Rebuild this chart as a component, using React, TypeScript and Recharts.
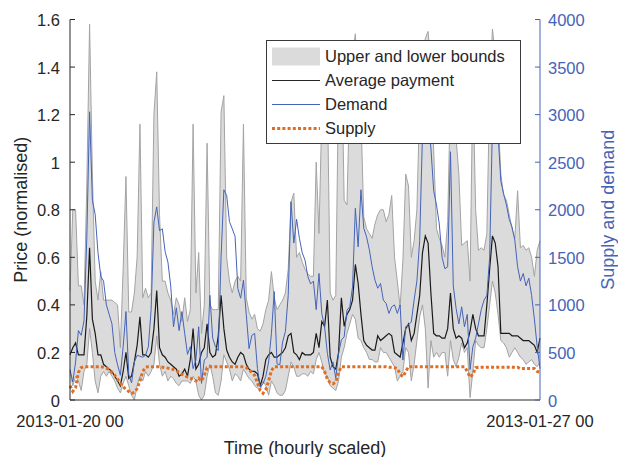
import { ComposedChart, Area, Line, XAxis, YAxis, Legend } from 'recharts';

// hourly values, 2013-01-20 00 .. 2013-01-27 00 (169 points)
const upperBound = [
  0.46, 0.8, 0.8, 0.48, 0.48, 0.4, 0.9, 1.58, 0.95, 0.5,
  0.42, 0.54, 0.42, 0.42, 0.42, 0.42, 0.41, 0.4, 0.22, 0.55,
  0.94, 0.37, 0.37, 0.45, 0.6, 1.16, 0.43, 0.47, 0.43, 0.45,
  1.2, 1.38, 0.78, 0.5, 0.5, 0.45, 0.42, 0.36, 0.43, 0.4,
  0.33, 0.43, 0.33, 0.38, 1.16, 0.45, 0.62, 0.28, 0.4, 1.08,
  0.4, 0.38, 0.38, 0.38, 1.21, 1.28, 0.6, 0.5, 0.45, 0.5,
  0.52, 0.5, 1.16, 0.43, 0.37, 0.34, 0.36, 0.3, 0.29, 0.32,
  0.38, 0.42, 0.54, 0.43, 0.38, 0.4, 0.42, 0.45, 0.55, 0.83,
  0.87, 0.6, 0.62, 0.58, 0.55, 0.53, 0.52, 0.52, 1.0, 0.7,
  1.2, 1.45, 1.3, 0.45, 0.42, 0.44, 1.35, 1.5, 0.84, 0.82,
  1.3, 1.45, 1.54, 1.3, 1.2, 0.77, 0.72, 0.7, 0.68, 0.74,
  0.78, 0.8, 0.8, 0.75, 0.78, 0.86, 0.6, 0.5, 0.39, 0.59,
  0.95, 0.9, 0.6, 0.67, 0.8, 1.25, 1.45, 1.52, 1.55, 1.4,
  1.05, 0.72, 0.68, 0.65, 0.6, 0.75, 1.3, 1.45, 1.1, 0.95,
  0.65, 0.66, 0.67, 0.5, 1.35, 0.8, 0.63, 0.64, 0.63, 0.7,
  1.3, 1.56, 1.45, 1.2, 0.95, 0.86, 0.84, 0.78, 0.72, 0.68,
  0.88, 0.64, 0.65, 0.63, 0.64, 0.6, 0.52, 0.63, 0.67,
];

const lowerBound = [
  0.12, 0.06, 0.1, 0.08, 0.04, 0.12, 0.15, 0.3, 0.2, 0.08,
  0.03, 0.1, 0.12, 0.1, 0.12, 0.1, 0.08, 0.05, 0.03, 0.07,
  0.1, 0.06, 0.02, 0.0, 0.06, 0.1, 0.08, 0.12, 0.1, 0.12,
  0.15, 0.27, 0.15, 0.1, 0.12, 0.08, 0.1, 0.09, 0.07, 0.06,
  0.08, 0.08, 0.08, 0.07, 0.1, 0.08, 0.02, 0.0, 0.02, 0.1,
  0.15, 0.1, 0.03, 0.02, 0.08, 0.19, 0.16, 0.13, 0.08, 0.11,
  0.1, 0.08, 0.13, 0.11, 0.09, 0.08, 0.06, 0.05, 0.04, 0.08,
  0.06, 0.02, 0.08, 0.06, 0.03, 0.02, 0.02, 0.04, 0.1, 0.16,
  0.14, 0.1, 0.1, 0.11, 0.11, 0.1, 0.12, 0.11, 0.17, 0.2,
  0.16, 0.11, 0.1, 0.06, 0.05, 0.04, 0.08, 0.18, 0.22, 0.28,
  0.32, 0.36, 0.34, 0.26, 0.25, 0.22, 0.2, 0.17, 0.17, 0.16,
  0.16, 0.22, 0.2, 0.2, 0.18, 0.16, 0.14, 0.08, 0.1, 0.12,
  0.22, 0.2, 0.08, 0.15, 0.25, 0.35, 0.4, 0.3, 0.05, 0.25,
  0.18, 0.2, 0.18, 0.2, 0.2, 0.1, 0.25, 0.17, 0.14, 0.18,
  0.24, 0.2, 0.22, 0.01, 0.12, 0.25, 0.23, 0.22, 0.22, 0.3,
  0.4, 0.5, 0.45, 0.36, 0.25, 0.24, 0.22, 0.18, 0.2, 0.22,
  0.2, 0.18, 0.17, 0.15, 0.16, 0.17, 0.15, 0.14, 0.16,
];

const avgPayment = [
  0.19, 0.22, 0.24, 0.19, 0.19, 0.19, 0.35, 0.64, 0.34, 0.28,
  0.19, 0.19, 0.15, 0.14, 0.13, 0.12, 0.1, 0.08, 0.06, 0.12,
  0.2, 0.09, 0.1, 0.16, 0.23, 0.35, 0.19, 0.19, 0.18, 0.2,
  0.3, 0.46, 0.22, 0.19, 0.18, 0.16, 0.15, 0.14, 0.13, 0.1,
  0.11, 0.13, 0.1, 0.17, 0.3, 0.13, 0.15, 0.2, 0.22, 0.32,
  0.2, 0.18, 0.19, 0.27, 0.44, 0.3, 0.21, 0.18, 0.16, 0.15,
  0.18, 0.2, 0.19, 0.15, 0.13, 0.12, 0.12, 0.11, 0.06, 0.1,
  0.17, 0.19, 0.2, 0.18, 0.18, 0.19, 0.2, 0.22, 0.27, 0.28,
  0.2, 0.19, 0.17, 0.2, 0.19, 0.19, 0.19, 0.2, 0.28, 0.22,
  0.33, 0.31, 0.42, 0.18, 0.14, 0.13, 0.2, 0.43, 0.31, 0.36,
  0.38, 0.42, 0.57, 0.49, 0.36, 0.25, 0.23, 0.22, 0.21, 0.21,
  0.27, 0.25, 0.26, 0.27, 0.28, 0.27, 0.2, 0.19, 0.18, 0.24,
  0.3, 0.32, 0.25, 0.28, 0.36, 0.44, 0.62, 0.69, 0.66, 0.45,
  0.28, 0.27, 0.27, 0.26, 0.26, 0.3, 0.45, 0.3, 0.26, 0.27,
  0.26, 0.22, 0.24, 0.29, 0.36, 0.3, 0.27, 0.27, 0.27, 0.4,
  0.55, 0.69, 0.66, 0.56, 0.28, 0.28, 0.28, 0.28, 0.27, 0.27,
  0.27, 0.26, 0.25, 0.25, 0.25, 0.24, 0.23, 0.2, 0.26,
];

const demand = [
  320, 190, 400, 730, 680, 830, 1700, 3030, 2100, 1950,
  1550, 1300, 1250, 1000, 900, 800, 500, 370, 260, 560,
  930, 270, 180, 400, 470, 460, 450, 470, 560, 950,
  1870, 2030, 1780, 1800, 1560, 1450, 1200, 770, 970, 730,
  930, 700, 480, 560, 330, 420, 770, 175, 420, 450,
  1100, 650, 560, 520, 1500, 2210, 2150, 1875, 1800, 1720,
  1170, 1070, 1260, 900, 540, 680, 700, 330, 140, 170,
  250, 400, 700, 1140, 380, 370, 610, 720, 1100, 2085,
  1650, 1900, 1700, 1550, 1470, 1300, 1220, 1250, 950, 1330,
  910, 770, 490, 315, 400, 230, 490, 630, 665, 945,
  980, 1190, 2015, 1610, 2210, 1805, 1715, 1580, 1400, 1260,
  1175, 1225, 1050, 1015, 910, 980, 1000, 910, 1000, 420,
  770, 790, 820, 1050, 1250, 1680, 2800, 3300, 2900, 2650,
  2200, 2050, 1850, 1500, 1380, 1400, 2610, 1200, 965, 800,
  980, 770, 900, 320, 560, 650, 800, 950, 1050, 1100,
  1500, 2900, 3200, 2800, 2300, 2170, 2050, 1900, 1820, 1680,
  1400, 1250, 1330, 1200, 1280, 1100, 850, 560, 330,
];

const supply = [
  150, 90, 130, 290, 340, 350, 350, 350, 350, 350,
  350, 350, 345, 335, 320, 290, 260, 220, 180, 140,
  110, 90, 70, 80, 120, 200, 300, 345, 350, 350,
  350, 350, 350, 345, 340, 335, 330, 320, 310, 290,
  270, 260, 240, 230, 215, 200, 230, 200, 260, 340,
  350, 350, 350, 350, 350, 350, 350, 350, 350, 350,
  350, 350, 350, 340, 320, 290, 260, 180, 100, 70,
  110, 200, 310, 350, 350, 350, 350, 350, 350, 350,
  350, 350, 350, 350, 350, 350, 350, 350, 350, 350,
  350, 300, 220, 180, 170, 190, 290, 350, 350, 350,
  350, 350, 350, 350, 350, 350, 350, 350, 350, 350,
  350, 350, 350, 350, 345, 345, 340, 330, 270, 245,
  300, 350, 350, 350, 350, 350, 350, 350, 350, 350,
  350, 350, 350, 350, 350, 350, 350, 350, 350, 350,
  350, 350, 300, 240, 270, 340, 345, 345, 345, 345,
  345, 345, 345, 345, 345, 345, 345, 345, 345, 345,
  345, 330, 330, 330, 330, 330, 330, 300, 290,
];

const xTickValues = [0, 168];
const xTickLabels = ['2013-01-20 00', '2013-01-27 00'];
const priceTicks = [0, 0.2, 0.4, 0.6, 0.8, 1, 1.2, 1.4, 1.6];
const supplyDemandTicks = [0, 500, 1000, 1500, 2000, 2500, 3000, 3500, 4000];
const legendLabels = ['Upper and lower bounds', 'Average payment', 'Demand', 'Supply'];

const data = upperBound.map((u, i) => ({
  hour: i,
  bounds: [lowerBound[i], u],
  avg: avgPayment[i],
  demand: demand[i],
  supply: supply[i],
}));

const W = 618;
const H = 457;
const LEFT = 70;
const RIGHT = 540;
const TOP = 19.5;
const BOTTOM = 400;

const DARK = '#262626';
const BLUE = '#4564b8';
const ORANGE = '#e06d24';
const FILL = '#dbdbdb';
const EDGE = '#a3a3a3';
const FONT = '"Liberation Sans", Arial, Helvetica, sans-serif';

const PriceTick = ({ y, payload }: any) => (
  <g>
    <line x1={LEFT} x2={LEFT + 5} y1={y} y2={y} stroke={DARK} />
    <text x={LEFT - 10} y={y} dy="0.4em" textAnchor="end" fill={DARK} fontSize={16.5}>
      {payload.value}
    </text>
  </g>
);

const SupplyTick = ({ y, payload }: any) => (
  <g>
    <line x1={RIGHT - 5} x2={RIGHT} y1={y} y2={y} stroke={BLUE} />
    <text x={RIGHT + 8} y={y} dy="0.4em" textAnchor="start" fill={BLUE} fontSize={16.5}>
      {payload.value}
    </text>
  </g>
);

const TimeTick = ({ x, payload }: any) => (
  <text x={x} y={BOTTOM + 27} textAnchor="middle" fill={DARK} fontSize={16.5}>
    {xTickLabels[xTickValues.indexOf(payload.value)]}
  </text>
);

const Title = ({ tx, ty, rot, title, color }: any) => (
  <text
    x={tx}
    y={ty}
    transform={rot ? `rotate(${rot} ${tx} ${ty})` : undefined}
    textAnchor="middle"
    fill={color}
    fontSize={18}
  >
    {title}
  </text>
);

const LegendBox = () => {
  const rows = [16.5, 40.5, 64.5, 88.5];
  return (
    <svg width={255} height={104} style={{ display: 'block', fontFamily: FONT }}>
      <rect x={0.5} y={0.5} width={254} height={103} fill="#fff" stroke="#3a3a3a" />
      <rect x={6} y={rows[0] - 9} width={48} height={18} fill={FILL} />
      <line x1={6} x2={54} y1={rows[1]} y2={rows[1]} stroke={DARK} strokeWidth={1.2} />
      <line x1={6} x2={54} y1={rows[2]} y2={rows[2]} stroke={BLUE} strokeWidth={1.2} />
      <line x1={6} x2={54} y1={rows[3]} y2={rows[3]} stroke={ORANGE} strokeWidth={3} strokeDasharray="3 2.2" />
      {legendLabels.map((label, i) => (
        <text key={label} x={59} y={rows[i]} dy="0.36em" fontSize={16.5} fill={DARK}>
          {label}
        </text>
      ))}
    </svg>
  );
};

export default function App() {
  return (
    <div style={{ position: 'absolute', left: 0, top: 0, width: W, height: H, background: '#fff', fontFamily: FONT }}>
      <ComposedChart width={W} height={H} data={data} margin={{ top: TOP, right: 0, bottom: 0, left: 0 }}>
        <XAxis
          dataKey="hour"
          type="number"
          domain={[0, 168]}
          ticks={xTickValues}
          interval={0}
          height={H - BOTTOM}
          axisLine={{ stroke: DARK }}
          tickLine={false}
          tick={<TimeTick />}
          label={<Title tx={(LEFT + RIGHT) / 2} ty={H - 3} title="Time (hourly scaled)" color={DARK} />}
        />
        <XAxis xAxisId="top" orientation="top" height={0} axisLine={{ stroke: DARK }} tick={false} tickLine={false} />
        <YAxis
          yAxisId="price"
          domain={[0, 1.6]}
          ticks={priceTicks}
          width={LEFT}
          allowDataOverflow
          axisLine={{ stroke: DARK }}
          tickLine={false}
          tick={<PriceTick />}
          label={<Title tx={27} ty={(TOP + BOTTOM) / 2} rot={-90} title="Price (normalised)" color={DARK} />}
        />
        <YAxis
          yAxisId="sd"
          orientation="right"
          domain={[0, 4000]}
          ticks={supplyDemandTicks}
          width={W - RIGHT}
          allowDataOverflow
          axisLine={{ stroke: BLUE }}
          tickLine={false}
          tick={<SupplyTick />}
          label={<Title tx={614} ty={(TOP + BOTTOM) / 2} rot={-90} title="Supply and demand" color={BLUE} />}
        />
        <Area
          yAxisId="price"
          type="linear"
          dataKey="bounds"
          stroke={EDGE}
          strokeWidth={1}
          fill={FILL}
          fillOpacity={1}
          dot={false}
          activeDot={false}
          isAnimationActive={false}
        />
        <Line yAxisId="price" type="linear" dataKey="avg" stroke="#1a1a1a" strokeWidth={1.2} dot={false} activeDot={false} isAnimationActive={false} />
        <Line yAxisId="sd" type="linear" dataKey="demand" stroke={BLUE} strokeWidth={1} dot={false} activeDot={false} isAnimationActive={false} />
        <Line
          yAxisId="sd"
          type="linear"
          dataKey="supply"
          stroke={ORANGE}
          strokeWidth={3}
          strokeDasharray="3 2.2"
          dot={false}
          activeDot={false}
          isAnimationActive={false}
        />
        <Legend
          layout="horizontal"
          verticalAlign="middle"
          align="center"
          content={<LegendBox />}
          wrapperStyle={{ left: 266, top: 40, width: 255, height: 104 }}
        />
      </ComposedChart>
    </div>
  );
}
